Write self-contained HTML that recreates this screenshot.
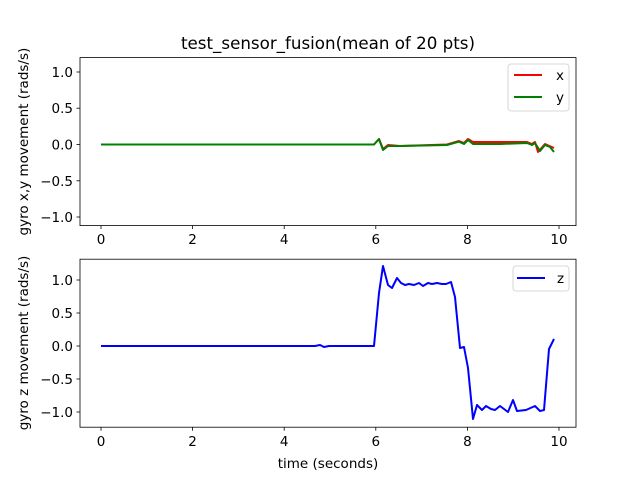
<!DOCTYPE html>
<html><head><style>body{margin:0;background:#fff}svg{display:block}</style></head><body>
<svg width="640" height="480" xmlns="http://www.w3.org/2000/svg" font-family="DejaVu Sans, Liberation Sans, sans-serif" font-size="13.5">
<rect width="640" height="480" fill="#fff"/>
<text x="328" y="49" text-anchor="middle" font-size="16.7">test_sensor_fusion(mean of 20 pts)</text>
<g stroke-width="2" fill="none" stroke-linejoin="round">
<polyline stroke="#ff0000" points="101,144.5 374,144.5 379,139 383,149 388,145 400,146 447,144.5 459,141 464,143 468,139 473,142 500,142 527,142 532,144 535,142 538,152 545,144 554,148"/>
<polyline stroke="#008000" points="101,144.5 374,144.5 379,139 383,150 388,146 400,146 447,145 459,141.7 464,144 468,140 473,144 500,144 527,143 532,145 535,143 540,151 545,145 550,147 554,152"/>
</g>
<rect x="80" y="57.6" width="496" height="168" fill="none" stroke="#000" stroke-width="0.8"/>
<g stroke="#000" stroke-width="0.8">
<line x1="101" y1="225.6" x2="101" y2="229"/><line x1="192.6" y1="225.6" x2="192.6" y2="229"/><line x1="284.2" y1="225.6" x2="284.2" y2="229"/><line x1="375.8" y1="225.6" x2="375.8" y2="229"/><line x1="467.4" y1="225.6" x2="467.4" y2="229"/><line x1="559" y1="225.6" x2="559" y2="229"/>
<line x1="76.5" y1="72" x2="80" y2="72"/><line x1="76.5" y1="108.2" x2="80" y2="108.2"/><line x1="76.5" y1="144.5" x2="80" y2="144.5"/><line x1="76.5" y1="180.8" x2="80" y2="180.8"/><line x1="76.5" y1="217" x2="80" y2="217"/>
</g>
<g text-anchor="middle"><text x="101" y="244">0</text><text x="192.6" y="244">2</text><text x="284.2" y="244">4</text><text x="375.8" y="244">6</text><text x="467.4" y="244">8</text><text x="559" y="244">10</text></g>
<g text-anchor="end"><text x="73" y="77">1.0</text><text x="73" y="113">0.5</text><text x="73" y="149.5">0.0</text><text x="73" y="186">−0.5</text><text x="73" y="222">−1.0</text></g>
<text transform="translate(28,141.6) rotate(-90)" text-anchor="middle">gyro x,y movement (rads/s)</text>
<rect x="508" y="64" width="61" height="47" rx="3" fill="#fff" stroke="#ccc" stroke-width="0.8"/>
<line x1="514" y1="75" x2="542" y2="75" stroke="#ff0000" stroke-width="2"/><text x="556" y="80">x</text>
<line x1="514" y1="97" x2="542" y2="97" stroke="#008000" stroke-width="2"/><text x="556" y="102">y</text>
<polyline fill="none" stroke="#0000ff" stroke-width="2" stroke-linejoin="round" points="101,346 315,346 320,345 324,347 329,346 374,346 379,293 383,266 388,285 392,288 397,278 401,283 405,285 409,284 414,285 419,283 423,286 428,283 432,284 437,283 442,284 446,284 451,282 455,297 460,348 464,347 468,368 473,419 477,405 482,410 486,406 491,409 495,410 500,406 508,412 513,400 517,411 526,410 535,406 540,411 544,410 549,349 554,339"/>
<rect x="80" y="259.2" width="496" height="168" fill="none" stroke="#000" stroke-width="0.8"/>
<g stroke="#000" stroke-width="0.8">
<line x1="101" y1="427.2" x2="101" y2="430.7"/><line x1="192.6" y1="427.2" x2="192.6" y2="430.7"/><line x1="284.2" y1="427.2" x2="284.2" y2="430.7"/><line x1="375.8" y1="427.2" x2="375.8" y2="430.7"/><line x1="467.4" y1="427.2" x2="467.4" y2="430.7"/><line x1="559" y1="427.2" x2="559" y2="430.7"/>
<line x1="76.5" y1="280" x2="80" y2="280"/><line x1="76.5" y1="313" x2="80" y2="313"/><line x1="76.5" y1="346" x2="80" y2="346"/><line x1="76.5" y1="379" x2="80" y2="379"/><line x1="76.5" y1="412" x2="80" y2="412"/>
</g>
<g text-anchor="middle"><text x="101" y="446">0</text><text x="192.6" y="446">2</text><text x="284.2" y="446">4</text><text x="375.8" y="446">6</text><text x="467.4" y="446">8</text><text x="559" y="446">10</text></g>
<g text-anchor="end"><text x="73" y="285">1.0</text><text x="73" y="318">0.5</text><text x="73" y="351">0.0</text><text x="73" y="384">−0.5</text><text x="73" y="417">−1.0</text></g>
<text transform="translate(28,343) rotate(-90)" text-anchor="middle">gyro z movement (rads/s)</text>
<text x="328" y="468" text-anchor="middle">time (seconds)</text>
<rect x="513" y="266" width="56" height="25" rx="3" fill="#fff" stroke="#ccc" stroke-width="0.8"/>
<line x1="517" y1="278" x2="545" y2="278" stroke="#0000ff" stroke-width="2"/><text x="557" y="283">z</text>
</svg>
</body></html>
